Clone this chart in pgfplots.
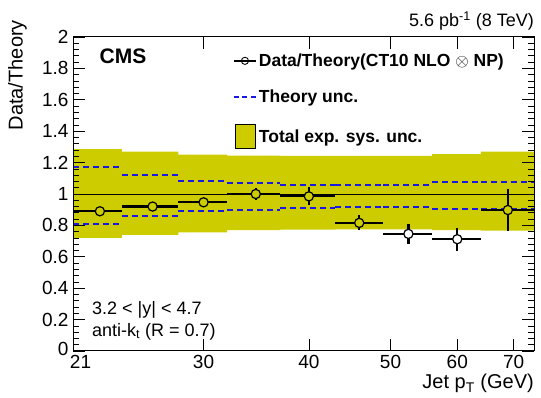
\documentclass[border=0pt]{standalone}
\usepackage{fontspec}
\setmainfont{Liberation Sans}
\usepackage{pgfplots}
\pgfplotsset{compat=1.18}
\usepackage{pgfplotstable}
\definecolor{bandcol}{RGB}{204,204,0}
\definecolor{thcol}{RGB}{25,25,225}

\pgfplotstableread{
x     y      exm   exp   ey
22.6  0.890  1.6   1.4   0.0
26.1  0.920  2.1   1.9   0.0
30.0  0.947  2.0   2.0   0.0
34.6  1.000  2.6   2.4   0.038
40.0  0.985  3.0   3.0   0.057
45.9  0.816  2.9   3.1   0.048
52.5  0.746  3.5   3.5   0.063
60.0  0.712  4.0   4.0   0.074
68.9  0.898  4.9   5.1   0.135
}\datatab

\pgfplotstableread{
x     y
22.6  0.890
26.1  0.920
30.0  0.947
34.6  1.000
40.0  0.985
45.9  0.816
68.9  0.898
}\insidetab

\pgfplotstableread{
x     y
52.5  0.746
60.0  0.712
}\outsidetab

\begin{document}
\begin{tikzpicture}
\begin{axis}[
  scale only axis,
  width=461pt, height=314pt,
  xmode=log,
  xmin=21, xmax=74,
  ymin=0, ymax=2,
  xtick={21,30,40,50,60,70},
  xticklabels={\hspace*{15pt}21,30,40,50,60,70},
  minor xtick={},
  log ticks with fixed point,
  ytick={0,0.2,...,2.01},
  yticklabels={\raisebox{4pt}{0},0.2,0.4,0.6,0.8,1,1.2,1.4,1.6,1.8,2},
  minor y tick num=4,
  tick align=inside,
  major tick length=12pt,
  minor tick length=6pt,
  every tick/.style={black, line width=0.7pt},
  axis line style={black, line width=1pt},
  tick label style={font=\fontsize{19}{19}\selectfont},
  /pgf/number format/assume math mode=true,
  xticklabel style={yshift=-1pt},
  yticklabel style={xshift=-1pt},
  axis on top,
  clip=true,
  legend style={
    at={(rel axis cs:0.34,0.96)}, anchor=north west,
    draw=none, fill=none,
    font=\bfseries\fontsize{17.5}{17.5}\selectfont,
    row sep=18pt,
    cells={anchor=west},
    /tikz/every even column/.append style={column sep=2pt},
  },
  legend cell align=left,
]
% band
\addplot[fill=bandcol, draw=none, forget plot] coordinates {
 (21,0.720) (24,0.720) (24,0.740) (28,0.740) (28,0.756) (32,0.756)
 (32,0.770) (37,0.770) (37,0.773) (43,0.773) (43,0.775) (49,0.775)
 (49,0.775) (56,0.775) (56,0.770) (64,0.770) (64,0.767) (74,0.767)
 (74,1.270) (64,1.270) (64,1.254) (56,1.254) (56,1.243) (49,1.243)
 (49,1.243) (43,1.243) (43,1.243) (37,1.243) (37,1.245) (32,1.245)
 (32,1.250) (28,1.250) (28,1.270) (24,1.270) (24,1.286) (21,1.286)
} -- cycle;
% line at one
\addplot[black, line width=0.8pt, forget plot] coordinates {(21,1) (74,1)};
% theory uncertainty
\addplot[thcol, line width=2pt, dash pattern=on 6pt off 4pt, forget plot, unbounded coords=jump] coordinates {
 (21,1.170) (24,1.170) (24,nan)
 (24,1.120) (28,1.120) (28,nan)
 (28,1.085) (32,1.085) (32,nan)
 (32,1.067) (37,1.067) (37,nan)
 (37,1.060) (43,1.060) (43,nan)
 (43,1.060) (49,1.060) (49,nan)
 (49,1.060) (56,1.060) (56,nan)
 (56,1.074) (64,1.074) (64,nan)
 (64,1.074) (74,1.074)
};
\addplot[thcol, line width=2pt, dash pattern=on 6pt off 4pt, forget plot, unbounded coords=jump] coordinates {
 (21,0.810) (24,0.810) (24,nan)
 (24,0.860) (28,0.860) (28,nan)
 (28,0.890) (32,0.890) (32,nan)
 (32,0.900) (37,0.900) (37,nan)
 (37,0.910) (43,0.910) (43,nan)
 (43,0.915) (49,0.915) (49,nan)
 (49,0.915) (56,0.915) (56,nan)
 (56,0.905) (64,0.905) (64,nan)
 (64,0.905) (74,0.905)
};
% data error bars
\addplot[draw=none, mark=none, forget plot,
  error bars/.cd, x dir=both, x explicit, y dir=both, y explicit,
  error bar style={black, line width=2.2pt}, error mark=none]
  table[x=x, y=y, x error minus=exm, x error plus=exp, y error=ey] {\datatab};
% markers
\addplot[only marks, mark=*, mark size=4.6pt, mark options={draw=black, fill=bandcol, line width=1.2pt}, forget plot] table[x=x,y=y] {\insidetab};
\addplot[only marks, mark=*, mark size=4.6pt, mark options={draw=black, fill=white, line width=1.2pt}, forget plot] table[x=x,y=y] {\outsidetab};
% legend
\addlegendimage{legend image code/.code={
  \draw[black, line width=1.5pt] (0pt,0pt) -- (22pt,0pt);
  \draw[black, line width=0.9pt] (11pt,0pt) circle (3.6pt);}}
\addlegendentry{Data/Theory(CT10 NLO $\otimes$ NP)}
\addlegendimage{legend image code/.code={
  \draw[thcol, line width=2pt, dash pattern=on 5pt off 3.5pt] (0pt,0pt) -- (22pt,0pt);}}
\addlegendentry{Theory unc.}
\addlegendimage{legend image code/.code={
  \draw[fill=bandcol, draw=black, line width=0.7pt] (1pt,-12pt) rectangle (21pt,12pt);}}
\addlegendentry{Total exp. sys. unc.}
% texts
\node[anchor=base west, font=\bfseries\fontsize{21}{21}\selectfont] at (rel axis cs:0.05,0.915) {CMS};
\node[anchor=base west, font=\fontsize{18}{18}\selectfont, inner sep=0pt] at (rel axis cs:0.041,0.117) {3.2 < |y| < 4.7};
\node[anchor=base west, font=\fontsize{18}{18}\selectfont, inner sep=0pt] at (rel axis cs:0.041,0.047) {anti-k$_{\mathrm{t}}$ (R = 0.7)};
\end{axis}
\node[anchor=base east, font=\fontsize{18}{18}\selectfont, inner sep=0pt] at ([yshift=10pt]current axis.north east) {5.6 pb\textsuperscript{-1} (8 TeV)};
\node[anchor=base east, font=\fontsize{20}{20}\selectfont, inner sep=0pt] at ([yshift=-38pt]current axis.south east) {Jet p$_{\mathrm{T}}$ (GeV)};
\node[anchor=north east, rotate=90, font=\fontsize{20}{20}\selectfont, inner sep=0pt] at ([xshift=-65pt, yshift=17pt]current axis.north west) {Data/Theory};
\pgfresetboundingbox
\path ([shift={(-73pt,-47pt)}]current axis.south west) rectangle ([shift={(7pt,37pt)}]current axis.north east);
\end{tikzpicture}
\end{document}
